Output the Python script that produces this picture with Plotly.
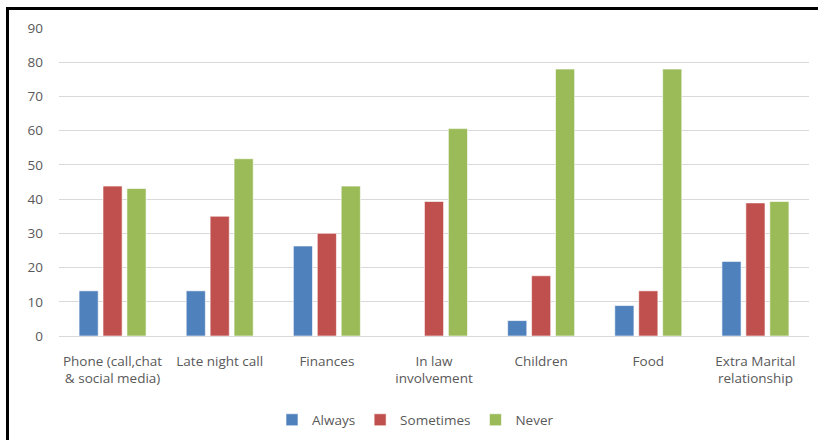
import plotly.graph_objects as go

categories = ["Phone (call,chat<br>& social media)", "Late night call", "Finances",
              "In law<br>involvement", "Children", "Food", "Extra Marital<br>relationship"]
always = [13.2, 13.2, 26.3, 0, 4.5, 8.9, 21.8]
sometimes = [43.8, 35.0, 30.0, 39.3, 17.6, 13.2, 38.9]
never = [43.1, 51.8, 43.8, 60.6, 78.0, 78.0, 39.3]
series_names = ["Always", "Sometimes", "Never"]
colors = ["#4F81BD", "#C0504D", "#9BBB59"]
y_ticks = [0, 10, 20, 30, 40, 50, 60, 70, 80, 90]

fig = go.Figure()
for name, vals, col in zip(series_names, [always, sometimes, never], colors):
    fig.add_trace(go.Bar(x=categories, y=vals, name=name,
                         marker=dict(color=col, line=dict(color="white", width=0.6))))

W, H = 818, 440
L, R, T, B = 59, 9, 28, 104
pw, ph = W - L - R, H - T - B

def px2x(x):
    return (x - L) / pw

def px2y(y):
    return (H - B - y) / ph

fig.update_layout(
    width=W, height=H,
    margin=dict(l=L, r=R, t=T, b=B, autoexpand=False),
    paper_bgcolor="white", plot_bgcolor="white",
    font=dict(family="Open Sans", size=13.5, color="#595959"),
    barmode="group", bargap=0.33, bargroupgap=0.2,
    showlegend=True,
    legend=dict(orientation="h", xref="container", yref="container",
                x=(272 / W), xanchor="left", y=1 - 420 / H, yanchor="middle",
                font=dict(size=13.5, color="#595959"), traceorder="normal"),
    xaxis=dict(showgrid=False, showline=False, ticks="", tickfont=dict(size=13.5),
               ticklabelstandoff=15, automargin=False),
    yaxis=dict(range=[0, 90], tickvals=y_ticks, showgrid=True, gridcolor="#D9D9D9",
               gridwidth=1, zeroline=True, zerolinecolor="#D9D9D9", zerolinewidth=1,
               ticks="", tickfont=dict(size=13.5), ticklabelstandoff=15,
               fixedrange=True, automargin=False),
    shapes=[
        dict(type="line", xref="paper", yref="paper", x0=px2x(6), x1=px2x(818),
             y0=px2y(8.5), y1=px2y(8.5), line=dict(color="black", width=3)),
        dict(type="line", xref="paper", yref="paper", x0=px2x(7.5), x1=px2x(7.5),
             y0=px2y(7), y1=px2y(440), line=dict(color="black", width=3)),
    ],
)

fig.write_html("out.html")
